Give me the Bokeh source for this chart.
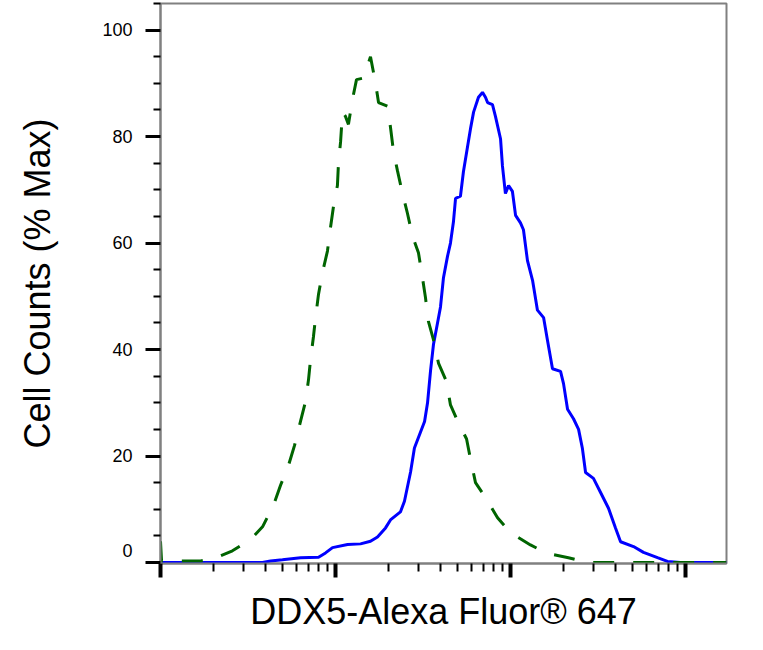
import numpy as np
from bokeh.plotting import figure
from bokeh.models import FixedTicker, ColumnDataSource
from bokeh.embed import file_html
from bokeh.resources import INLINE

# ---------------- data (x in log10 intensity, y in % of max) ----------------
blue_log10 = [1.000, 1.583, 1.629, 1.697, 1.800, 1.903, 1.943, 1.983, 2.069, 2.143,
              2.200, 2.240, 2.286, 2.314, 2.371, 2.394, 2.429, 2.451, 2.486, 2.509,
              2.526, 2.543, 2.560, 2.583, 2.600, 2.617, 2.640, 2.657, 2.674, 2.686,
              2.714, 2.731, 2.754, 2.771, 2.789, 2.817, 2.840, 2.857, 2.869, 2.897,
              2.914, 2.943, 2.954, 2.971, 2.989, 3.011, 3.029, 3.057, 3.074, 3.097,
              3.126, 3.154, 3.189, 3.211, 3.240, 3.286, 3.303, 3.326, 3.360, 3.389,
              3.411, 3.429, 3.474, 3.514, 3.560, 3.600, 3.629, 3.703, 3.760, 3.840,
              3.897, 3.971, 4.234]
blue_pct = [0.0, 0.0, 0.3, 0.5, 0.9, 1.0, 1.8, 2.8, 3.4, 3.5,
            4.0, 4.8, 6.5, 8.0, 9.5, 11.5, 17.0, 21.5, 24.5, 26.5,
            30.0, 36.0, 41.0, 45.0, 48.0, 53.5, 57.5, 60.0, 64.0, 68.4,
            68.8, 73.4, 78.0, 81.4, 84.6, 87.4, 88.3, 87.4, 86.4, 86.0,
            83.8, 79.6, 74.5, 69.3, 70.8, 69.7, 65.2, 63.8, 62.5, 56.7,
            53.0, 47.4, 46.0, 41.8, 36.4, 35.9, 33.6, 28.8, 27.0, 25.0,
            21.4, 16.9, 15.8, 13.2, 10.2, 6.5, 3.9, 3.0, 1.9, 0.9,
            0.2, 0.0, 0.0]

green_log10 = [1.000, 1.006, 1.229, 1.303, 1.411, 1.514, 1.583, 1.646, 1.686, 1.731,
               1.766, 1.800, 1.829, 1.846, 1.857, 1.874, 1.886, 1.903, 1.926, 1.954,
               1.971, 1.989, 2.011, 2.017, 2.029, 2.040, 2.057, 2.074, 2.097, 2.120,
               2.160, 2.200, 2.229, 2.246, 2.297, 2.314, 2.331, 2.354, 2.383, 2.411,
               2.440, 2.474, 2.497, 2.514, 2.531, 2.560, 2.589, 2.634, 2.657, 2.697,
               2.749, 2.771, 2.800, 2.857, 2.926, 3.000, 3.114, 3.211, 3.331, 3.440,
               4.234]
green_pct = [4.0, 0.3, 0.3, 0.7, 2.2, 4.3, 6.7, 10.8, 14.5, 18.2,
             22.0, 26.5, 30.3, 34.4, 38.0, 42.4, 46.0, 50.4, 54.5, 58.5,
             62.8, 67.0, 70.8, 75.0, 79.0, 84.6, 83.8, 82.3, 87.0, 90.7,
             91.0, 95.0, 90.0, 86.4, 85.7, 81.8, 77.3, 73.6, 69.3, 65.6,
             61.3, 58.2, 53.5, 49.8, 45.3, 41.8, 37.4, 34.0, 29.6, 26.6,
             23.2, 19.5, 15.0, 12.2, 8.4, 5.6, 3.3, 1.7, 0.9, 0.0,
             0.0]

y_ticks = [0, 20, 40, 60, 80, 100]
y_minor = [5, 10, 15, 25, 30, 35, 45, 50, 55, 65, 70, 75, 85, 90, 95, 105]
x_decades = [1, 2, 3, 4]

y_label = "Cell Counts (% Max)"
x_label = "DDX5-Alexa Fluor\u00ae 647"

# ---------------- layout ----------------
XLOG0, XLOG1 = 1.0, 4.2343
Y0, Y1 = -0.186, 105.0
FONT = "Liberation Sans"

p = figure(width=747, height=634, x_axis_type="log",
           x_range=(10 ** XLOG0, 10 ** XLOG1), y_range=(Y0, Y1),
           output_backend="svg", toolbar_location=None,
           min_border_left=160, min_border_right=21,
           min_border_top=3, min_border_bottom=65)

p.background_fill_color = "white"
p.border_fill_color = "white"
p.outline_line_color = "#808080"
p.outline_line_width = 2
p.xgrid.visible = False
p.ygrid.visible = False

blue_src = ColumnDataSource(dict(x=[10 ** v for v in blue_log10], y=blue_pct))
green_src = ColumnDataSource(dict(x=[10 ** v for v in green_log10], y=green_pct))

p.line("x", "y", source=blue_src, line_color="#0000FF", line_width=3)
p.line("x", "y", source=green_src, line_color="#006400", line_width=3,
       line_dash="21 19")

# x axis
x_major = [10 ** d for d in x_decades]
x_minor = [m * 10 ** d for d in x_decades for m in range(2, 10)
           if m * 10 ** d <= 10 ** XLOG1]
p.xaxis.ticker = FixedTicker(ticks=x_major, minor_ticks=x_minor)
p.xaxis.axis_line_color = "#808080"
p.xaxis.axis_line_width = 2
p.xaxis.major_tick_in = 0
p.xaxis.major_tick_out = 14
p.xaxis.major_tick_line_width = 4
p.xaxis.major_tick_line_color = "black"
p.xaxis.minor_tick_in = 0
p.xaxis.minor_tick_out = 8
p.xaxis.minor_tick_line_width = 2
p.xaxis.minor_tick_line_color = "black"
p.xaxis.major_label_text_font_size = "1px"
p.xaxis.major_label_text_color = "white"
p.xaxis.major_label_standoff = 0
p.xaxis.major_label_overrides = {v: " " for v in x_major}
p.xaxis.axis_label = x_label
p.xaxis.axis_label_text_font = FONT
p.xaxis.axis_label_text_font_size = "36px"
p.xaxis.axis_label_text_font_style = "normal"
p.xaxis.axis_label_text_color = "black"
p.xaxis.axis_label_standoff = 9

# y axis
p.yaxis.ticker = FixedTicker(ticks=y_ticks, minor_ticks=y_minor)
p.yaxis.axis_line_color = "#808080"
p.yaxis.axis_line_width = 2
p.yaxis.major_tick_in = 0
p.yaxis.major_tick_out = 15
p.yaxis.major_tick_line_width = 3
p.yaxis.major_tick_line_color = "black"
p.yaxis.minor_tick_in = 0
p.yaxis.minor_tick_out = 7
p.yaxis.minor_tick_line_width = 2
p.yaxis.minor_tick_line_color = "black"
p.yaxis.major_label_standoff = 13
p.yaxis.major_label_text_font = FONT
p.yaxis.major_label_text_font_size = "18px"
p.yaxis.major_label_text_color = "black"
# the "0" label sits a little above its tick in the original
p.yaxis.major_label_overrides = {0: "0\n\u00a0"}
p.yaxis.axis_label = y_label
p.yaxis.axis_label_text_font = FONT
p.yaxis.axis_label_text_font_size = "36px"
p.yaxis.axis_label_text_font_style = "normal"
p.yaxis.axis_label_text_color = "black"
p.yaxis.axis_label_standoff = 41

open("out.html", "w").write(file_html(p, INLINE))
